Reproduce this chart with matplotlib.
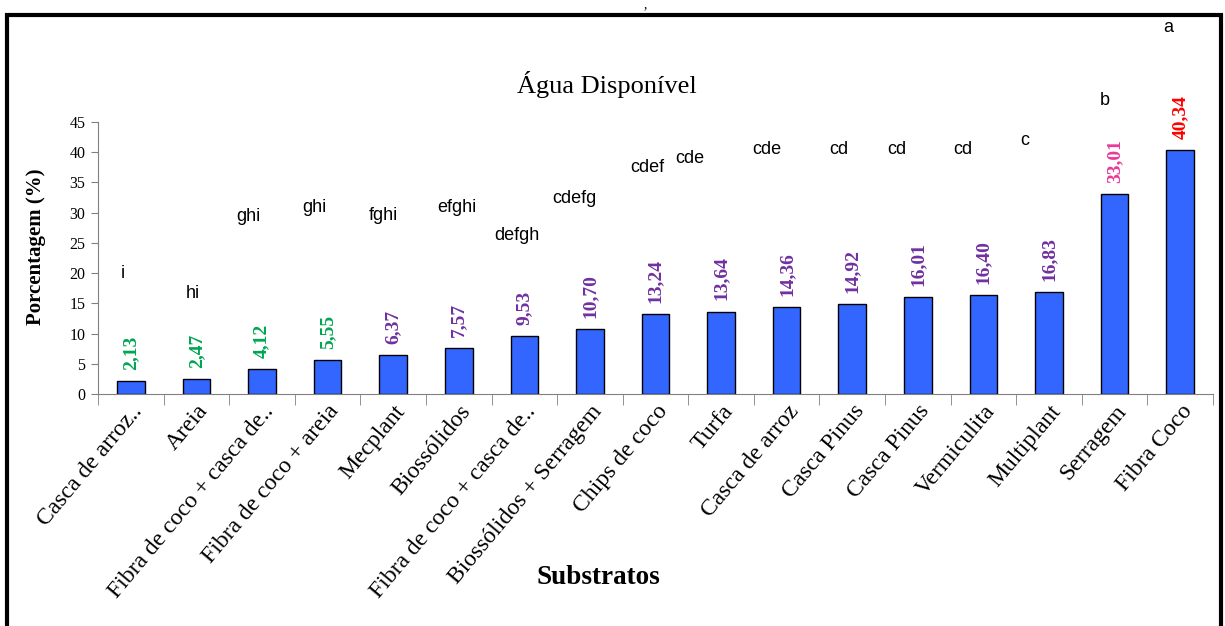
import numpy as np
import matplotlib.pyplot as plt
from matplotlib.patches import Rectangle
from matplotlib.transforms import ScaledTranslation

substratos = ["Casca de arroz..", "Areia", "Fibra de coco + casca de..",
              "Fibra de coco + areia", "Mecplant", "Biossólidos",
              "Fibra de coco + casca de..", "Biossólidos + Serragem",
              "Chips de coco", "Turfa", "Casca de arroz", "Casca Pinus",
              "Casca Pinus", "Vermiculita", "Multiplant", "Serragem",
              "Fibra Coco"]
agua = [2.13, 2.47, 4.12, 5.55, 6.37, 7.57, 9.53, 10.70, 13.24, 13.64,
        14.36, 14.92, 16.01, 16.40, 16.83, 33.01, 40.34]
letras = ["i", "hi", "ghi", "ghi", "fghi", "efghi", "defgh", "cdefg", "cdef",
          "cde", "cde", "cd", "cd", "cd", "c", "b", "a"]

# where each group letter sits (x shift in bar units, height in %)
letra_dx = [-0.12, -0.06, -0.21, -0.20, -0.15, -0.03, -0.11, -0.24, -0.12,
            -0.47, -0.30, -0.21, -0.32, -0.32, -0.37, -0.15, -0.18]
letra_y = [20.0, 16.7, 29.3, 30.9, 29.6, 30.9, 26.3, 32.4, 37.4,
           38.9, 40.5, 40.5, 40.5, 40.5, 41.9, 48.5, 60.7]

cor_valor = ["#00A651"] * 4 + ["#7030A0"] * 11 + ["#E8399B", "#FF0000"]


def draw_plot():
    W, H = 1225, 626
    fig = plt.figure(figsize=(W / 100, H / 100), dpi=100)
    ax = fig.add_axes([98 / W, 1 - 394 / H, (1213 - 98) / W, (394 - 122) / H])

    x = np.arange(len(agua)) + 0.5
    ax.bar(x, agua, width=0.42, color="#3366FF", edgecolor="black", linewidth=1)

    for xi, v, c in zip(x, agua, cor_valor):
        ax.annotate(f"{v:.2f}".replace(".", ","), xy=(xi, v), xytext=(0, 8),
                    textcoords="offset points", rotation=90, ha="center",
                    va="bottom", color=c, fontsize=14, fontweight="bold",
                    family="Liberation Serif")

    for xi, l, dx, ly in zip(x, letras, letra_dx, letra_y):
        ax.text(xi + dx, ly, l, ha="center", va="center", fontsize=13,
                family="Liberation Sans", clip_on=False)

    ax.set_xlim(0, len(agua))
    ax.set_ylim(0, 45)
    ax.set_yticks(range(0, 46, 5))
    ax.set_yticklabels([str(t) for t in range(0, 46, 5)],
                       family="Liberation Serif", fontsize=11.5)
    ax.set_xticks(x)
    ax.set_xticklabels(substratos, rotation=50, ha="right", va="top",
                       rotation_mode="anchor", family="Liberation Serif",
                       fontsize=17)
    shift = ScaledTranslation(10 / 100, 0, fig.dpi_scale_trans)
    for lab in ax.get_xticklabels():
        lab.set_transform(lab.get_transform() + shift)
    ax.set_xticks(np.arange(len(agua) + 1), minor=True)
    ax.tick_params(axis="x", which="major", length=0, pad=5)
    ax.tick_params(axis="x", which="minor", length=8, color="#808080")
    ax.tick_params(axis="y", length=5, color="#808080", pad=4)

    for s in ("top", "right"):
        ax.spines[s].set_visible(False)
    for s in ("left", "bottom"):
        ax.spines[s].set_color("#808080")

    fig.text(607 / W, 1 - 85 / H, "Água Disponível", ha="center", va="center",
             fontsize=19, family="Liberation Serif")
    fig.text(36 / W, 1 - 247 / H, "Porcentagem (%)", rotation=90, ha="center",
             va="center", fontsize=15, fontweight="bold",
             family="Liberation Serif")
    fig.text(598 / W, 1 - 577 / H, "Substratos", ha="center", va="center",
             fontsize=19.5, fontweight="bold", family="Liberation Serif")
    fig.text(645 / W, 1 - 5 / H, ",", ha="center", va="center", fontsize=10,
             family="Liberation Serif")

    fig.patches.append(Rectangle((6.5 / W, -0.1), (1221 - 6.5) / W,
                                 1.1 - 15 / H, transform=fig.transFigure,
                                 fill=False, edgecolor="black", linewidth=3))

    fig.savefig("out.png", dpi=100)


def main():
    draw_plot()


if __name__ == '__main__':
    main()
